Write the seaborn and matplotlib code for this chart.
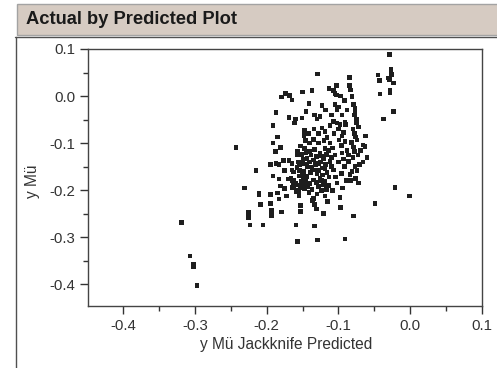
import matplotlib
matplotlib.use("Agg")
import matplotlib.pyplot as plt
import seaborn as sns
import pandas as pd
from matplotlib.patches import Rectangle
from matplotlib.lines import Line2D
from matplotlib.ticker import MultipleLocator, FixedLocator

title = "Actual by Predicted Plot"
x_label = "y Mü Jackknife Predicted"
y_label = "y Mü"
tick_values = [-0.4, -0.3, -0.2, -0.1, 0.0, 0.1]
tick_labels = ["-0.4", "-0.3", "-0.2", "-0.1", "0.0", "0.1"]

points = [
    # outliers
    (-0.319, -0.268), (-0.307, -0.340), (-0.302, -0.357), (-0.302, -0.362), (-0.297, -0.402), (-0.243, -0.109),
    # left group
    (-0.231, -0.195), (-0.215, -0.158), (-0.211, -0.206), (-0.211, -0.210), (-0.209, -0.231), (-0.225, -0.248),
    (-0.225, -0.258), (-0.223, -0.274), (-0.205, -0.274), (-0.195, -0.209), (-0.195, -0.228), (-0.193, -0.243),
    (-0.193, -0.249), (-0.193, -0.255), (-0.191, -0.170), (-0.188, -0.118), (-0.195, -0.145), (-0.187, -0.143),
    (-0.183, -0.146), (-0.183, -0.176), (-0.181, -0.191), (-0.179, -0.246), (-0.185, -0.206), (-0.183, -0.219),
    (-0.177, -0.137), (-0.175, -0.158), (-0.175, -0.197), (-0.172, -0.212), (-0.169, -0.137), (-0.165, -0.143),
    (-0.165, -0.157), (-0.163, -0.161), (-0.170, -0.176), (-0.166, -0.175), (-0.165, -0.180), (-0.163, -0.184),
    (-0.162, -0.179), (-0.160, -0.189), (-0.163, -0.192), (-0.159, -0.185), (-0.165, -0.194), (-0.157, -0.125),
    (-0.156, -0.140), (-0.159, -0.203), (-0.156, -0.200), (-0.155, -0.211), (-0.159, -0.274), (-0.157, -0.309),
    # upper left
    (-0.191, -0.063), (-0.161, -0.057), (-0.148, -0.077), (-0.148, -0.085), (-0.185, -0.087), (-0.191, -0.100),
    (-0.181, -0.109), (-0.153, -0.106), (-0.157, -0.118), (-0.151, -0.124), (-0.149, -0.134), (-0.147, -0.144),
    (-0.144, -0.150), (-0.179, -0.002), (-0.174, 0.006), (-0.168, 0.001), (-0.165, -0.008), (-0.187, -0.035),
    (-0.169, -0.045), (-0.160, -0.049), (-0.151, -0.047), (-0.145, -0.033),
    (-0.158, -0.152), (-0.154, -0.158), (-0.150, -0.165), (-0.155, -0.170), (-0.149, -0.175), (-0.152, -0.182),
    (-0.147, -0.188), (-0.150, -0.195), (-0.153, -0.190),
    # central / right column
    (-0.150, 0.009), (-0.137, 0.012), (-0.113, 0.016), (-0.107, 0.012), (-0.105, 0.006), (-0.103, 0.002),
    (-0.085, 0.022), (-0.083, 0.013), (-0.141, -0.016), (-0.105, -0.018), (-0.100, -0.023), (-0.079, -0.018),
    (-0.077, -0.031), (-0.078, -0.040), (-0.133, -0.040), (-0.130, -0.049), (-0.126, -0.043), (-0.107, -0.054),
    (-0.102, -0.057), (-0.098, -0.061), (-0.091, -0.056), (-0.075, -0.057), (-0.072, -0.066), (-0.147, -0.072),
    (-0.142, -0.080), (-0.134, -0.070), (-0.128, -0.079), (-0.123, -0.068), (-0.119, -0.075), (-0.093, -0.077),
    (-0.099, -0.093), (-0.091, -0.096), (-0.096, -0.105), (-0.082, -0.099), (-0.074, -0.093), (-0.066, -0.104),
    (-0.069, -0.116), (-0.078, -0.118), (-0.147, -0.111), (-0.140, -0.118), (-0.133, -0.114), (-0.126, -0.121),
    (-0.119, -0.111), (-0.114, -0.116), (-0.144, -0.132), (-0.135, -0.136), (-0.128, -0.143), (-0.121, -0.134),
    (-0.112, -0.139), (-0.093, -0.134), (-0.086, -0.139), (-0.095, -0.121), (-0.071, -0.146), (-0.142, -0.151),
    (-0.133, -0.157), (-0.123, -0.153), (-0.116, -0.162), (-0.107, -0.157), (-0.084, -0.167), (-0.144, -0.171),
    (-0.135, -0.178), (-0.126, -0.175), (-0.119, -0.182), (-0.147, -0.196), (-0.137, -0.199), (-0.128, -0.192),
    (-0.121, -0.189), (-0.135, -0.217), (-0.098, -0.215),
    (-0.129, 0.047), (-0.085, 0.040), (-0.085, 0.023), (-0.103, 0.023), (-0.081, -0.001), (-0.077, -0.026),
    (-0.075, -0.050), (-0.102, -0.029),
    # lower part
    (-0.136, -0.222), (-0.119, -0.212), (-0.115, -0.224), (-0.133, -0.231), (-0.131, -0.240), (-0.121, -0.249),
    (-0.097, -0.237), (-0.079, -0.255), (-0.153, -0.233), (-0.153, -0.245), (-0.133, -0.276), (-0.129, -0.306),
    (-0.091, -0.304),
    # top right
    (-0.029, 0.088), (-0.027, 0.057), (-0.045, 0.045), (-0.026, 0.046), (-0.043, 0.033), (-0.030, 0.038),
    (-0.029, 0.035), (-0.023, 0.028), (-0.028, 0.012), (-0.028, 0.008), (-0.042, 0.004), (-0.023, -0.033),
    (-0.037, -0.049), (-0.063, -0.107), (-0.021, -0.194), (-0.001, -0.212), (-0.049, -0.228),
    # right column extras
    (-0.080, -0.070), (-0.078, -0.080), (-0.076, -0.087), (-0.079, -0.108), (-0.073, -0.125), (-0.080, -0.130),
    (-0.077, -0.150), (-0.074, -0.158), (-0.081, -0.160), (-0.076, -0.175), (-0.083, -0.180), (-0.072, -0.185),
    # dense core
    (-0.145, -0.120), (-0.138, -0.125), (-0.131, -0.128), (-0.124, -0.127), (-0.117, -0.124), (-0.140, -0.140),
    (-0.132, -0.146), (-0.125, -0.140), (-0.118, -0.145), (-0.110, -0.150), (-0.148, -0.160), (-0.139, -0.162),
    (-0.130, -0.165), (-0.122, -0.168), (-0.113, -0.172), (-0.146, -0.180), (-0.140, -0.186), (-0.131, -0.184),
    (-0.124, -0.180), (-0.114, -0.190), (-0.141, -0.205), (-0.130, -0.208), (-0.124, -0.200), (-0.117, -0.198),
    (-0.150, -0.140), (-0.154, -0.146), (-0.137, -0.152), (-0.127, -0.158), (-0.119, -0.155), (-0.143, -0.192),
    (-0.110, -0.130), (-0.105, -0.125), (-0.108, -0.110), (-0.112, -0.100), (-0.120, -0.095), (-0.128, -0.100),
    (-0.135, -0.092), (-0.140, -0.100), (-0.146, -0.095), (-0.116, -0.088), (-0.106, -0.080), (-0.100, -0.070),
    (-0.112, -0.063), (-0.095, -0.085), (-0.088, -0.115), (-0.100, -0.140), (-0.092, -0.150), (-0.096, -0.165),
    (-0.089, -0.180), (-0.102, -0.185), (-0.094, -0.195), (-0.108, -0.200), (-0.104, -0.172), (-0.086, -0.125),
    (-0.090, -0.060), (-0.095, -0.040), (-0.088, -0.030), (-0.092, -0.010), (-0.097, 0.000), (-0.118, -0.030),
    (-0.123, -0.020), (-0.110, -0.040), (-0.060, -0.130), (-0.062, -0.085), (-0.066, -0.140),
]
predicted = [p[0] for p in points]
actual = [p[1] for p in points]

df = pd.DataFrame({"predicted": predicted, "actual": actual})

sns.set_theme(style="white")
plt.rcParams['font.family'] = ['Liberation Sans', 'DejaVu Sans']
plt.rcParams['axes.unicode_minus'] = False

W, H = 497, 368
fig = plt.figure(figsize=(W / 100, H / 100), dpi=100)
fig.patch.set_facecolor("white")

# header bar
fig.patches.append(Rectangle((17 / W, 1 - 35 / H), 1.0, 31 / H, transform=fig.transFigure,
                             facecolor="#d6cbc2", edgecolor="#a3a3a3", lw=1.0))
fig.text(26 / W, 1 - 20 / H, title, fontweight="bold", fontsize=13.2, va="center", ha="left", color="#1a1a1a")
fig.add_artist(Line2D([15 / W, 1], [1 - 36.5 / H] * 2, color="#505050", lw=1.0))
fig.add_artist(Line2D([15.5 / W] * 2, [0, 1 - 36.5 / H], color="#505050", lw=1.0))

ax = fig.add_axes([88 / W, 1 - 306 / H, 394 / W, 257 / H])
sns.scatterplot(data=df, x="predicted", y="actual", marker="s", s=11, color="#1e1e1e",
                edgecolor="none", linewidth=0, ax=ax, legend=False)
ax.set_xlim(-0.449, 0.1)
ax.set_ylim(-0.446, 0.1)
ax.xaxis.set_major_locator(FixedLocator(tick_values))
ax.yaxis.set_major_locator(FixedLocator(tick_values))
ax.set_xticklabels(tick_labels)
ax.set_yticklabels(tick_labels)
ax.xaxis.set_minor_locator(MultipleLocator(0.05))
ax.yaxis.set_minor_locator(MultipleLocator(0.05))
ax.tick_params(which="major", direction="out", length=6, width=1, color="#333333",
               labelsize=10.8, labelcolor="#333333", pad=3, bottom=True, left=True)
ax.tick_params(which="minor", direction="out", length=3.5, width=1, color="#333333", bottom=True, left=True)
for sp in ax.spines.values():
    sp.set_color("#444444")
    sp.set_linewidth(1.0)
ax.set_xlabel("")
ax.set_ylabel("")
fig.text(286 / W, 1 - 344 / H, x_label, fontsize=11.2, ha="center", va="center", color="#333333")
fig.text(33 / W, 1 - 181 / H, y_label, fontsize=11.2, ha="center", va="center", rotation=90, color="#333333")

fig.savefig("out.png", dpi=100)
